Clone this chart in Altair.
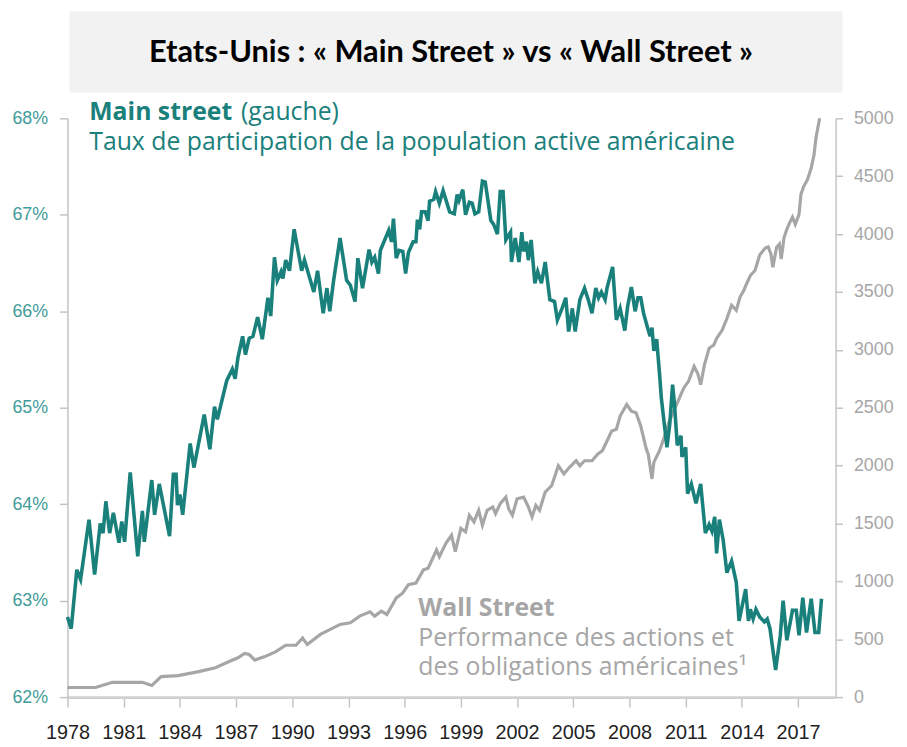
import altair as alt
import pandas as pd

# ---- data ----
main_years = [1978.0, 1978.2, 1978.5, 1978.7, 1979.15, 1979.45, 1979.75, 1979.9, 1980.05, 1980.25,
              1980.45, 1980.75, 1980.9, 1981.05, 1981.35, 1981.75, 1982.0, 1982.1, 1982.5, 1982.65,
              1982.9, 1983.45, 1983.65, 1983.8, 1983.87, 1984.0, 1984.15, 1984.55, 1984.75, 1985.3,
              1985.6, 1985.85, 1986.0, 1986.5, 1986.8, 1986.95, 1987.1, 1987.35, 1987.5, 1987.7,
              1987.9, 1988.15, 1988.4, 1988.7, 1988.85, 1989.05, 1989.2, 1989.4, 1989.5, 1989.65,
              1989.85, 1990.1, 1990.5, 1990.65, 1991.15, 1991.35, 1991.65, 1991.85, 1992.0, 1992.2,
              1992.55, 1992.9, 1993.1, 1993.35, 1993.5, 1993.75, 1994.1, 1994.25, 1994.4, 1994.6,
              1994.7, 1995.15, 1995.3, 1995.4, 1995.55, 1995.7, 1995.9, 1996.05, 1996.2, 1996.45,
              1996.6, 1996.68, 1996.8, 1996.9, 1997.1, 1997.25, 1997.33, 1997.55, 1997.65, 1997.85,
              1998.05, 1998.4, 1998.65, 1998.8, 1998.9, 1999.1, 1999.25, 1999.45, 1999.6, 1999.75,
              1999.95, 2000.15, 2000.3, 2000.6, 2000.75, 2000.95, 2001.1, 2001.25, 2001.4, 2001.65,
              2001.7, 2001.9, 2002.1, 2002.25, 2002.35, 2002.5, 2002.6, 2002.75, 2002.95, 2003.1,
              2003.3, 2003.5, 2003.75, 2004.0, 2004.15, 2004.4, 2004.6, 2004.75, 2004.95, 2005.1,
              2005.35, 2005.6, 2005.8, 2006.0, 2006.2, 2006.35, 2006.5, 2006.7, 2006.8, 2007.1,
              2007.3, 2007.5, 2007.75, 2007.9, 2008.1, 2008.3, 2008.45, 2008.6, 2008.75, 2008.95,
              2009.1, 2009.2, 2009.3, 2009.45, 2009.6, 2009.7, 2010.0, 2010.15, 2010.3, 2010.4,
              2010.55, 2010.75, 2010.8, 2011.0, 2011.1, 2011.3, 2011.55, 2011.8, 2012.05, 2012.25,
              2012.4, 2012.55, 2012.65, 2012.8, 2013.0, 2013.2, 2013.45, 2013.7, 2013.85, 2014.05,
              2014.2, 2014.35, 2014.45, 2014.6, 2014.75, 2014.95, 2015.2, 2015.35, 2015.5, 2015.8,
              2016.05, 2016.2, 2016.4, 2016.7, 2016.9, 2017.05, 2017.25, 2017.45, 2017.7, 2017.9,
              2018.1, 2018.25]
main_rate = [62.83, 62.71, 63.32, 63.22, 63.84, 63.27, 63.80, 63.70, 64.03, 63.70,
             63.91, 63.60, 63.82, 63.61, 64.33, 63.46, 63.93, 63.61, 64.25, 63.89,
             64.21, 63.67, 64.31, 64.31, 63.99, 64.10, 63.89, 64.63, 64.38, 64.93,
             64.57, 65.01, 64.88, 65.28, 65.40, 65.30, 65.52, 65.74, 65.55, 65.72,
             65.74, 65.94, 65.71, 66.14, 65.95, 66.56, 66.32, 66.41, 66.34, 66.53,
             66.42, 66.85, 66.42, 66.53, 66.20, 66.42, 65.98, 66.24, 66.00, 66.31,
             66.76, 66.32, 66.27, 66.10, 66.55, 66.24, 66.64, 66.51, 66.56, 66.39,
             66.63, 66.84, 66.72, 66.96, 66.55, 66.63, 66.62, 66.39, 66.61, 66.72,
             66.72, 66.95, 66.85, 67.03, 67.03, 66.94, 67.14, 67.16, 67.24, 67.12,
             67.25, 67.03, 67.01, 67.21, 67.15, 67.26, 67.00, 67.13, 67.12, 67.01,
             67.03, 67.35, 67.34, 66.94, 66.90, 66.80, 67.24, 67.24, 66.74, 66.82,
             66.51, 66.76, 66.51, 66.82, 66.62, 66.72, 66.53, 66.74, 66.29, 66.41,
             66.29, 66.51, 66.12, 66.10, 65.91, 66.03, 66.14, 65.79, 66.03, 65.79,
             66.12, 66.24, 66.12, 65.98, 66.24, 66.14, 66.20, 66.12, 66.24, 66.46,
             65.91, 66.03, 65.80, 66.05, 66.25, 66.00, 66.14, 66.14, 65.98, 65.84,
             65.74, 65.83, 65.59, 65.71, 65.36, 65.10, 64.59, 64.83, 65.24, 65.04,
             64.61, 64.71, 64.49, 64.59, 64.11, 64.21, 64.01, 64.21, 63.70, 63.79,
             63.72, 63.87, 63.49, 63.84, 63.63, 63.29, 63.41, 63.19, 62.79, 62.98,
             63.12, 62.79, 62.91, 62.81, 62.91, 62.83, 62.78, 62.81, 62.71, 62.28,
             62.64, 63.00, 62.59, 62.90, 62.90, 62.64, 63.03, 62.67, 63.02, 62.67,
             62.67, 63.02]

wall_years = [1978.0, 1979.5, 1980.4, 1982.0, 1982.5, 1983.0, 1983.9, 1985.0, 1985.9, 1986.6,
              1987.1, 1987.45, 1987.7, 1988.0, 1988.5, 1989.1, 1989.65, 1990.2, 1990.55, 1990.8,
              1991.5, 1992.55, 1993.1, 1993.6, 1994.15, 1994.4, 1994.75, 1995.05, 1995.55, 1995.9,
              1996.2, 1996.6, 1997.0, 1997.25, 1997.7, 1997.85, 1998.2, 1998.5, 1998.7, 1999.0,
              1999.25, 1999.45, 1999.7, 1999.95, 2000.15, 2000.4, 2000.7, 2000.85, 2001.1, 2001.4,
              2001.55, 2001.75, 2002.0, 2002.35, 2002.6, 2002.8, 2003.0, 2003.2, 2003.5, 2003.85,
              2004.2, 2004.5, 2004.8, 2005.15, 2005.35, 2005.6, 2006.0, 2006.3, 2006.55, 2006.8,
              2007.05, 2007.3, 2007.5, 2007.85, 2008.1, 2008.35, 2008.6, 2008.9, 2009.0, 2009.2,
              2009.3, 2009.6, 2009.85, 2010.1, 2010.4, 2010.7, 2010.9, 2011.15, 2011.45, 2011.65,
              2011.8, 2012.0, 2012.25, 2012.5, 2012.65, 2012.95, 2013.2, 2013.45, 2013.7, 2013.9,
              2014.1, 2014.25, 2014.45, 2014.7, 2014.95, 2015.25, 2015.4, 2015.55, 2015.65, 2015.85,
              2016.0, 2016.1, 2016.25, 2016.4, 2016.55, 2016.7, 2016.85, 2017.05, 2017.15, 2017.3,
              2017.5, 2017.7, 2017.85, 2017.95, 2018.15]
wall_perf = [83, 83, 128, 128, 100, 177, 186, 220, 254, 306,
             340, 377, 368, 320, 348, 391, 448, 448, 511, 454,
             542, 628, 642, 700, 737, 700, 743, 714, 857, 900,
             971, 985, 1099, 1114, 1271, 1214, 1328, 1399, 1257, 1457,
             1428, 1571, 1514, 1614, 1485, 1614, 1643, 1585, 1671, 1728,
             1628, 1571, 1714, 1728, 1643, 1557, 1656, 1614, 1771, 1828,
             1999, 1928, 1985, 2042, 1999, 2042, 2042, 2099, 2128, 2213,
             2299, 2314, 2428, 2528, 2470, 2457, 2342, 2142, 2099, 1885,
             2028, 2128, 2242, 2371, 2485, 2599, 2671, 2728, 2856, 2793,
             2699, 2871, 3014, 3042, 3099, 3171, 3271, 3385, 3342, 3456,
             3513, 3571, 3642, 3685, 3820, 3880, 3890, 3828, 3713, 3884,
             3913, 3785, 3970, 4042, 4099, 4147, 4085, 4170, 4342, 4413,
             4470, 4570, 4685, 4827, 5000]

year_ticks = list(range(1978, 2018, 3))
pct_ticks = [62, 63, 64, 65, 66, 67, 68]
perf_ticks = list(range(0, 5001, 500))

title_text = "Etats-Unis : « Main Street » vs « Wall Street »"
main_label = "Main street"
main_side = "(gauche)"
main_desc = "Taux de participation de la population active américaine"
wall_label = "Wall Street"
wall_desc1 = "Performance des actions et"
wall_desc2 = "des obligations américaines¹"

TEAL = "#1a807b"
TEAL_LIGHT = "#3f9c98"
GRAY = "#a6a6a6"
AXIS_GRAY = "#c4c4c4"
AXF = "Liberation Sans"
TXT = "Open Sans"

main_df = pd.DataFrame({"year": main_years, "rate": main_rate})
wall_df = pd.DataFrame({"year": wall_years, "perf": wall_perf})

x_scale = alt.Scale(domain=[1978, 2019], nice=False, zero=False)
x_axis = alt.Axis(values=year_ticks, format="d", title=None, grid=False,
                  labelFont=AXF, labelFontSize=20, labelColor="#1f1f1f",
                  tickSize=10, tickColor=AXIS_GRAY, tickWidth=1.5,
                  domainColor="#d0d0d0", domainWidth=3, labelPadding=16,
                  labelFlush=False, labelOverlap=False)

wall_line = alt.Chart(wall_df).mark_line(color=GRAY, strokeWidth=3.2).encode(
    x=alt.X("year:Q", scale=x_scale, axis=x_axis),
    y=alt.Y("perf:Q", scale=alt.Scale(domain=[0, 5000], nice=False),
            axis=alt.Axis(orient="right", values=perf_ticks, format="d", title=None, grid=False,
                          labelFont=AXF, labelFontSize=18, labelColor=GRAY,
                          tickSize=7, tickColor=AXIS_GRAY, tickWidth=1.5,
                          domainColor=AXIS_GRAY, domainWidth=1.5, labelPadding=11,
                          labelOverlap=False)),
)

main_line = alt.Chart(main_df).mark_line(color=TEAL, strokeWidth=3.6).encode(
    x=alt.X("year:Q", scale=x_scale, axis=x_axis),
    y=alt.Y("rate:Q", scale=alt.Scale(domain=[62, 68], nice=False, zero=False),
            axis=alt.Axis(orient="left", values=pct_ticks, labelExpr="datum.value + '%'",
                          title=None, grid=False,
                          labelFont=AXF, labelFontSize=18, labelColor=TEAL_LIGHT,
                          tickSize=8, tickColor=AXIS_GRAY, tickWidth=1.5,
                          domainColor=AXIS_GRAY, domainWidth=1.5, labelPadding=12,
                          labelOverlap=False)),
)

one = pd.DataFrame({"k": [0]})

title_box = alt.Chart(one).mark_rect(color="#f2f2f2").encode(
    x=alt.value(2), x2=alt.value(782), y=alt.value(-108), y2=alt.value(-26)
)

def txt(s, x, y, color, size, weight="normal", font=TXT, align="left"):
    return alt.Chart(pd.DataFrame({"t": [s]})).mark_text(
        align=align, baseline="alphabetic", font=font, fontSize=size,
        fontWeight=weight, color=color
    ).encode(text="t:N", x=alt.value(x), y=alt.value(y))

title_mark = txt(title_text, 387, -57, "#000000", 31, "bold", "Lato", "center")
a1 = txt(main_label, 22, 2, TEAL, 25, "bold")
a2 = txt(main_side, 175, 2, TEAL, 25)
a3 = txt(main_desc, 22, 32, TEAL, 25)
b1 = txt(wall_label, 354, 502, GRAY, 25, "bold")
b2 = txt(wall_desc1, 354, 532, GRAY, 25)
b3 = txt(wall_desc2, 354, 562, GRAY, 25)

lines = alt.layer(wall_line, main_line).resolve_scale(y="independent")

chart = alt.layer(title_box, lines, title_mark, a1, a2, a3, b1, b2, b3).resolve_scale(
    y="independent"
).properties(
    width=775, height=584,
    autosize=alt.AutoSizeParams(type="none"),
    padding={"left": 60, "top": 108, "right": 64, "bottom": 47},
    background="white",
).configure_view(stroke=None)

chart.save("out.html", embed_options={"renderer": "svg", "actions": False})
